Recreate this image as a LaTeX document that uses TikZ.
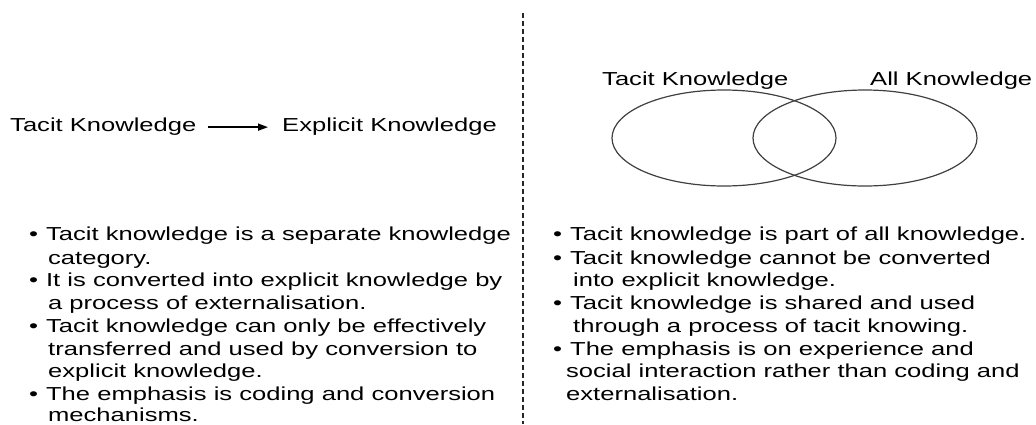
\documentclass[tikz,border=0pt]{standalone}
\usepackage{fontspec}
\setmainfont{Liberation Sans}[FakeStretch=1.36]
\usetikzlibrary{arrows.meta,shapes.geometric}
\begin{document}
\begin{tikzpicture}[x=1pt,y=-1pt,
  txt/.style={anchor=base west,inner sep=0pt,font=\fontsize{18.8}{22.6}\selectfont,text=black},
  ell/.style={draw=black!75,line width=1.2pt,ellipse,minimum width=224pt,minimum height=96pt,inner sep=0pt},
  arr/.style={-{Triangle[length=10pt,width=7pt]},line width=1.6pt,black},
  sep/.style={dash pattern=on 5pt off 3pt,line width=1.4pt,black!85}]
\useasboundingbox (0,0) rectangle (1036,424);
% divider
\coordinate (dtop) at (523,13);
\coordinate (dbot) at (523,424);
\draw[sep] (dtop) -- (dbot);
% left header
\node[txt] (tk) at (10,131) {Tacit Knowledge};
\node[txt] (ek) at (282,131) {Explicit Knowledge};
\draw[arr] ([xshift=11pt,yshift=-1pt]tk.east) -- ([xshift=-14pt,yshift=-1pt]ek.west);
% right header
\node[ell] (e1) at (724,138) {};
\node[ell] (e2) at (865,138) {};
\node[txt] (lt) at (602,85) {Tacit Knowledge};
\node[txt] (la) at (870,85) {All Knowledge};
% left bullets
\node[txt] (l1) at (29,240.7) {•\hspace{8pt}Tacit knowledge is a separate knowledge};
\node[txt] (l2) at (48,264) {category.};
\node[txt] (l3) at (29,286.7) {•\hspace{8pt}It is converted into explicit knowledge by};
\node[txt] (l4) at (48,309) {a process of externalisation.};
\node[txt] (l5) at (29,332.7) {•\hspace{8pt}Tacit knowledge can only be effectively};
\node[txt] (l6) at (48,355) {transferred and used by conversion to};
\node[txt] (l7) at (48,377) {explicit knowledge.};
\node[txt] (l8) at (29,400) {•\hspace{8pt}The emphasis is coding and conversion};
\node[txt] (l9) at (48,421.7) {mechanisms.};
% right bullets
\node[txt] (r1) at (553,240.7) {•\hspace{8pt}Tacit knowledge is part of all knowledge.};
\node[txt] (r2) at (553,264) {•\hspace{8pt}Tacit knowledge cannot be converted};
\node[txt] (r3) at (573,286.7) {into explicit knowledge.};
\node[txt] (r4) at (553,309) {•\hspace{8pt}Tacit knowledge is shared and used};
\node[txt] (r5) at (573,332.7) {through a process of tacit knowing.};
\node[txt] (r6) at (553,355) {•\hspace{8pt}The emphasis is on experience and};
\node[txt] (r7) at (566,377) {social interaction rather than coding and};
\node[txt] (r8) at (566,400) {externalisation.};
\end{tikzpicture}
\end{document}
